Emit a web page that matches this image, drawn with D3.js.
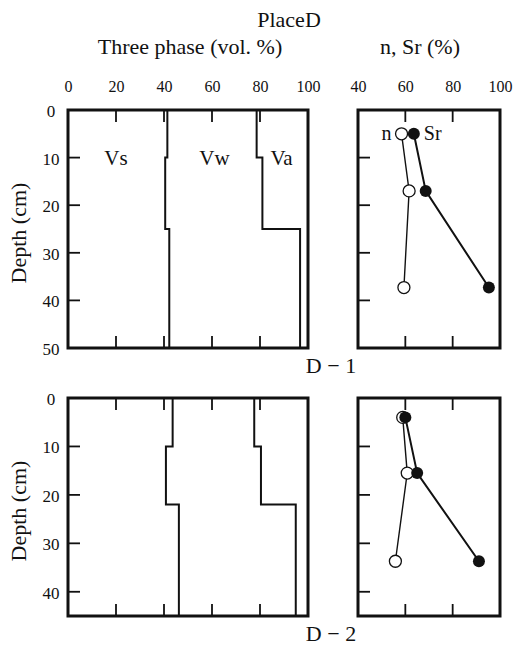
<!DOCTYPE html>
<html>
<head>
<meta charset="utf-8">
<script src="https://cdn.jsdelivr.net/npm/d3@7"></script>
<style>
  body { margin: 0; background: #fff; }
  text { font-family: "Liberation Serif", "DejaVu Serif", serif; fill: #111; }
</style>
</head>
<body>
<div id="chart"></div>
<script>
// Profile D-1: layer boundaries (cm) and cumulative phase percentages
const layersD1 = [0, 10, 25, 50];
const vsD1 = [41.4, 40.5, 42.2];      // solid phase
const vswD1 = [78.6, 81.0, 96.7];     // solid + water
// Profile D-2
const layersD2 = [0, 10, 22, 45];
const vsD2 = [43.6, 40.8, 46.2];
const vswD2 = [77.6, 80.4, 94.9];

// Porosity n and saturation Sr at sample depths
const sampleDepthD1 = [5, 17, 37.3];
const nD1 = [58.4, 61.6, 59.4];
const srD1 = [63.6, 68.6, 95.3];
const sampleDepthD2 = [4, 15.5, 33.7];
const nD2 = [58.9, 60.8, 55.8];
const srD2 = [60.0, 65.0, 91.1];

const phaseTicks = [0, 20, 40, 60, 80, 100];
const nsrTicks = [40, 60, 80, 100];
const depthTicksD1 = [0, 10, 20, 30, 40, 50];
const depthTicksD2 = [0, 10, 20, 30, 40];

const W = 523, H = 647;
const svg = d3.select("#chart").append("svg")
    .attr("width", W)
    .attr("height", H);

// Titles
svg.append("text").attr("x", 289).attr("y", 27).attr("text-anchor", "middle")
    .style("font-size", "22px").text("PlaceD");
svg.append("text").attr("x", 190).attr("y", 54).attr("text-anchor", "middle")
    .style("font-size", "22px").text("Three phase (vol. %)");
svg.append("text").attr("x", 420).attr("y", 54).attr("text-anchor", "middle")
    .style("font-size", "22px").text("n, Sr (%)");

const xPhase = d3.scaleLinear().domain([0, 100]).range([68, 308]);
const xNsr = d3.scaleLinear().domain([40, 100]).range([358, 500]);

// top tick labels (only over the upper panels)
svg.append("g").attr("transform", "translate(0,92)")
    .call(d3.axisTop(xPhase).tickValues(phaseTicks).tickSize(0).tickPadding(0))
    .call(g => g.select(".domain").remove())
    .selectAll("text").style("font-size", "16px");
svg.append("g").attr("transform", "translate(0,92)")
    .call(d3.axisTop(xNsr).tickValues(nsrTicks).tickSize(0).tickPadding(0))
    .call(g => g.select(".domain").remove())
    .selectAll("text").style("font-size", "16px");

function stepPath(layers, vals, x, y) {
    const pts = [];
    vals.forEach((v, i) => {
        pts.push([x(v), y(layers[i])]);
        pts.push([x(v), y(layers[i + 1])]);
    });
    return d3.line()(pts);
}

function frame(g, x, y, innerTicks, depthTicks) {
    const [x0, x1] = x.range(), [y0, y1] = y.range();
    const tl = 12;
    // inner ticks top & bottom
    innerTicks.forEach(t => {
        g.append("line").attr("x1", x(t)).attr("x2", x(t)).attr("y1", y0).attr("y2", y0 + tl);
        g.append("line").attr("x1", x(t)).attr("x2", x(t)).attr("y1", y1).attr("y2", y1 - tl);
    });
    depthTicks.filter(d => d > y.domain()[0] && d < y.domain()[1]).forEach(d => {
        g.append("line").attr("x1", x0).attr("x2", x0 + tl).attr("y1", y(d)).attr("y2", y(d));
    });
    g.selectAll("line").attr("stroke", "#111").attr("stroke-width", 1.8);
    g.append("rect").attr("x", x0).attr("y", y0).attr("width", x1 - x0).attr("height", y1 - y0)
        .attr("fill", "none").attr("stroke", "#111").attr("stroke-width", 3);
}

function profile(cfg) {
    const y = d3.scaleLinear().domain([0, cfg.layers[cfg.layers.length - 1]]).range([cfg.top, cfg.bottom]);
    const g = svg.append("g");

    // three phase step lines
    [cfg.vs, cfg.vsw].forEach(v => {
        g.append("path").attr("d", stepPath(cfg.layers, v, xPhase, y))
            .attr("fill", "none").attr("stroke", "#111").attr("stroke-width", 2);
    });
    frame(g.append("g"), xPhase, y, [20, 40, 60, 80], cfg.depthTicks);

    // depth labels
    cfg.depthTicks.forEach(d => {
        g.append("text").attr("x", 51).attr("y", y(d) + 7).attr("text-anchor", "middle")
            .style("font-size", "17px").text(d);
    });
    g.append("text")
        .attr("transform", `translate(26,${(cfg.top + cfg.bottom) / 2 + 4}) rotate(-90)`)
        .attr("text-anchor", "middle").style("font-size", "22px").text("Depth (cm)");

    // n, Sr panel
    const gr = svg.append("g");
    const line = d3.line().x(d => xNsr(d[0])).y(d => y(d[1]));
    const nPts = cfg.n.map((v, i) => [v, cfg.sampleDepth[i]]);
    const srPts = cfg.sr.map((v, i) => [v, cfg.sampleDepth[i]]);
    gr.append("path").attr("d", line(nPts)).attr("fill", "none").attr("stroke", "#111").attr("stroke-width", 1.4);
    gr.append("path").attr("d", line(srPts)).attr("fill", "none").attr("stroke", "#111").attr("stroke-width", 2);
    gr.selectAll(".n").data(nPts).enter().append("circle")
        .attr("cx", d => xNsr(d[0])).attr("cy", d => y(d[1])).attr("r", 6)
        .attr("fill", "#fff").attr("stroke", "#111").attr("stroke-width", 1.3);
    gr.selectAll(".sr").data(srPts).enter().append("circle")
        .attr("cx", d => xNsr(d[0])).attr("cy", d => y(d[1])).attr("r", 6)
        .attr("fill", "#111");
    frame(gr.append("g"), xNsr, y, [60, 80], cfg.depthTicks);

    svg.append("text").attr("x", 331).attr("y", cfg.bottom + 25).attr("text-anchor", "middle")
        .style("font-size", "22px").text(cfg.name);
    return y;
}

const yD1 = profile({
    name: "D − 1", layers: layersD1, vs: vsD1, vsw: vswD1,
    sampleDepth: sampleDepthD1, n: nD1, sr: srD1,
    depthTicks: depthTicksD1, top: 110, bottom: 348
});
const yD2 = profile({
    name: "D − 2", layers: layersD2, vs: vsD2, vsw: vswD2,
    sampleDepth: sampleDepthD2, n: nD2, sr: srD2,
    depthTicks: depthTicksD2, top: 398, bottom: 616
});

// phase labels and n / Sr labels in the upper panels
const yLab = yD1(10) + 7;
[["Vs", 20], ["Vw", 61], ["Va", 89]].forEach(([t, v]) => {
    svg.append("text").attr("x", xPhase(v)).attr("y", yLab).attr("text-anchor", "middle")
        .style("font-size", "21px").text(t);
});
svg.append("text").attr("x", xNsr(nD1[0]) - 10).attr("y", yD1(sampleDepthD1[0]) + 6)
    .attr("text-anchor", "end").style("font-size", "20px").text("n");
svg.append("text").attr("x", xNsr(srD1[0]) + 10).attr("y", yD1(sampleDepthD1[0]) + 6)
    .attr("text-anchor", "start").style("font-size", "20px").text("Sr");
</script>
</body>
</html>
